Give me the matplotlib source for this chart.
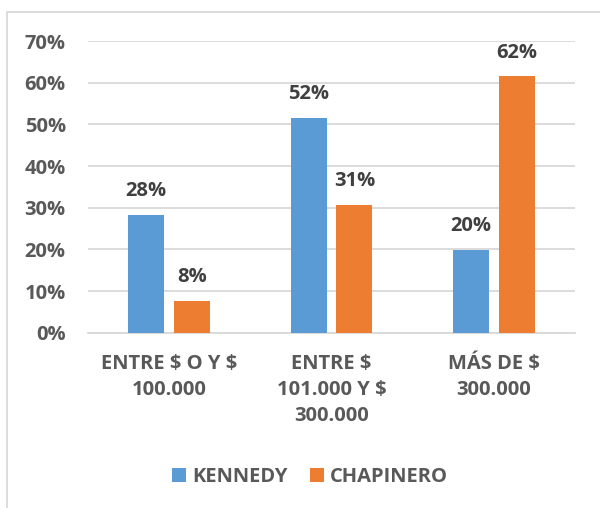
import numpy as np
import matplotlib.pyplot as plt
from matplotlib.patches import Rectangle

categories = ['ENTRE \\$ O Y \\$\n100.000', 'ENTRE \\$\n101.000 Y \\$\n300.000', 'MÁS DE \\$\n300.000']
kennedy = [28.2, 51.5, 19.9]
chapinero = [7.6, 30.6, 61.5]
series_names = ['KENNEDY', 'CHAPINERO']
yticks = [0, 10, 20, 30, 40, 50, 60, 70]

blue = '#5B9BD5'
orange = '#ED7D31'
grid_col = '#D9D9D9'
tick_col = '#595959'
label_col = '#404040'
fs = 14.5

plt.rcParams['font.family'] = ['Open Sans', 'DejaVu Sans']
plt.rcParams['font.weight'] = 'bold'

fig = plt.figure(figsize=(6, 5.08), dpi=100)
fig.patches.append(Rectangle((7 / 600, -0.1), 1.2, 1 - 12 / 508 + 0.1,
                             transform=fig.transFigure, fill=False,
                             edgecolor=grid_col, linewidth=1.3))

ax = fig.add_axes([88 / 600, 1 - 332.7 / 508, 487 / 600, (332.7 - 41) / 508])

x = np.arange(len(categories))
width = 0.222
off = 0.141
b1 = ax.bar(x - off, kennedy, width, color=blue, label=series_names[0], zorder=3)
b2 = ax.bar(x + off, chapinero, width, color=orange, label=series_names[1], zorder=3)

for bars, vals in [(b1, kennedy), (b2, chapinero)]:
    for rect, v in zip(bars, vals):
        ax.annotate(f'{v:.0f}%', (rect.get_x() + rect.get_width() / 2, v),
                    xytext=(0, 10), textcoords='offset points',
                    ha='center', va='bottom', fontsize=fs,
                    fontweight='bold', color=label_col)

ax.set_xlim(-0.5, 2.5)
ax.set_ylim(0, 70)
ax.set_yticks(yticks)
ax.set_yticklabels([f'{t}%' for t in yticks])
ax.set_xticks(x)
ax.set_xticklabels(categories, linespacing=1.42)
ax.tick_params(axis='both', length=0, labelsize=fs, colors=tick_col)
ax.tick_params(axis='y', pad=16)
ax.tick_params(axis='x', pad=15)
for lab in ax.get_xticklabels() + ax.get_yticklabels():
    lab.set_fontweight('bold')

ax.yaxis.grid(True, color=grid_col, linewidth=1.3, zorder=0)
for s in ['top', 'right', 'left']:
    ax.spines[s].set_visible(False)
ax.spines['bottom'].set_color(grid_col)
ax.spines['bottom'].set_linewidth(1.3)

leg = fig.legend(handles=[b1, b2], loc='center', bbox_to_anchor=(0.517, 1 - 477 / 508),
                 ncol=2, frameon=False, fontsize=fs, handlelength=0.7,
                 handleheight=0.7, handletextpad=0.3, columnspacing=1.1)
for t in leg.get_texts():
    t.set_color(tick_col)
    t.set_fontweight('bold')

fig.savefig('out.png', dpi=100)
